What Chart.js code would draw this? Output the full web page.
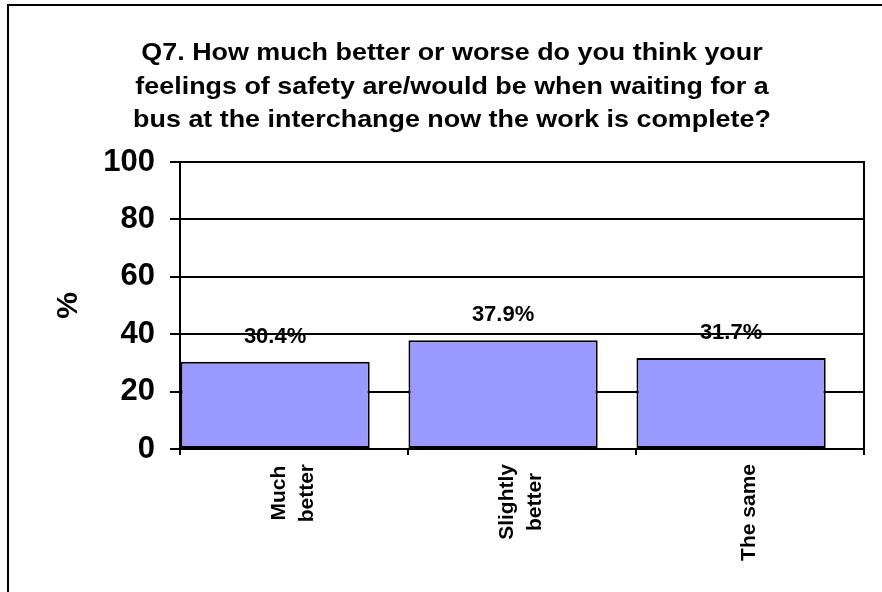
<!DOCTYPE html>
<html>
<head>
<meta charset="utf-8">
<title>Q7 safety at the interchange</title>
<script src="https://cdn.jsdelivr.net/npm/chart.js@4.4.1/dist/chart.umd.min.js"></script>
<style>
  html, body { margin: 0; padding: 0; background: #fff; overflow: hidden; }
  #frame {
    position: absolute;
    left: 7px;
    top: 4px;
    width: 886px;
    height: 600px;
    border: 2px solid #000;
  }
  canvas { display: block; }
</style>
</head>
<body>
<div id="frame">
  <canvas id="chart" width="886" height="600"></canvas>
</div>
<script>
// Ответы на вопрос Q7
const categories = [["Much", "better"], ["Slightly", "better"], "The same"];
const percents = [30.4, 37.9, 31.7];
const yTicks = [0, 20, 40, 60, 80, 100];

const titleLines = [
  "Q7. How much better or worse do you think your",
  "feelings of safety are/would be when waiting for a",
  "bus at the interchange now the work is complete?",
];

// Столбики сдвинуты влево внутри своей категории
const barShift = 0.083;

const FONT = '"Liberation Sans", Arial, Helvetica, sans-serif';
Chart.defaults.font.family = FONT;
Chart.defaults.color = "#000";

// Заголовок: широкий жирный шрифт, три строки по центру
const wideTitle = {
  id: "wideTitle",
  afterDraw(chart) {
    const ctx = chart.ctx;
    const stretch = 1.12;
    ctx.save();
    ctx.font = "bold 24px " + FONT;
    ctx.fillStyle = "#000";
    ctx.textAlign = "center";
    ctx.textBaseline = "alphabetic";
    titleLines.forEach((line, i) => {
      ctx.save();
      ctx.translate(chart.width / 2, 54 + i * 33.5);
      ctx.scale(stretch, 1);
      ctx.fillText(line, 0, 0);
      ctx.restore();
    });
    ctx.restore();
  },
};

// Подписи значений над столбиками
const valueLabels = {
  id: "valueLabels",
  afterDatasetsDraw(chart) {
    const ctx = chart.ctx;
    const meta = chart.getDatasetMeta(0);
    ctx.save();
    ctx.font = "bold 22px " + FONT;
    ctx.fillStyle = "#000";
    ctx.textAlign = "center";
    ctx.textBaseline = "alphabetic";
    meta.data.forEach((bar, i) => {
      ctx.fillText(percents[i].toFixed(1) + "%", bar.x, bar.y - 19);
    });
    ctx.restore();
  },
};

// Повернутые подписи категорий, строки выровнены по центру блока
const categoryLabels = {
  id: "categoryLabels",
  afterDraw(chart) {
    const ctx = chart.ctx;
    const scale = chart.scales.x;
    const lineH = 28;
    ctx.save();
    ctx.font = "bold 21px " + FONT;
    ctx.fillStyle = "#000";
    ctx.textAlign = "center";
    ctx.textBaseline = "middle";
    categories.forEach((cat, i) => {
      const lines = [].concat(cat);
      const px = scale.getPixelForTick(i);
      const maxW = Math.max(...lines.map((l) => ctx.measureText(l).width));
      const top = scale.top + 15;
      lines.forEach((line, j) => {
        const cx = px + (j - (lines.length - 1) / 2) * lineH - 1;
        ctx.save();
        ctx.translate(cx, top + maxW / 2);
        ctx.rotate(-Math.PI / 2);
        ctx.fillText(line, 0, 0);
        ctx.restore();
      });
    });
    ctx.restore();
  },
};

new Chart(document.getElementById("chart"), {
  type: "bar",
  data: {
    labels: categories,
    datasets: [
      {
        data: percents.map((v, i) => ({ x: i, y: v })),
        xAxisID: "xb",
        backgroundColor: "#9999FF",
        borderColor: "#000",
        borderWidth: 2,
        borderSkipped: false,
        categoryPercentage: 1,
        barPercentage: 0.83,
      },
    ],
  },
  options: {
    responsive: false,
    animation: false,
    layout: {
      padding: { left: 0, right: 31, top: 156, bottom: 0 },
    },
    plugins: {
      legend: { display: false },
      tooltip: { enabled: false },
      title: { display: false },
    },
    scales: {
      x: {
        type: "category",
        offset: true,
        grid: {
          display: true,
          offset: true,
          drawOnChartArea: false,
          color: "#000",
          lineWidth: 2,
          tickLength: 6,
        },
        border: { display: true, color: "#000", width: 2 },
        ticks: { display: false },
        afterFit(scale) {
          scale.height = 157;
        },
      },
      xb: {
        type: "linear",
        display: false,
        offset: false,
        grid: { offset: false },
        min: -0.5 + barShift,
        max: 2.5 + barShift,
        ticks: { stepSize: 1, includeBounds: false },
      },
      y: {
        min: 0,
        max: 100,
        afterBuildTicks(scale) {
          scale.ticks = yTicks.map((v) => ({ value: v }));
        },
        grid: {
          color: "#000",
          lineWidth: 2,
          tickLength: 10,
          tickColor: "#000",
          tickWidth: 2,
        },
        border: { display: true, color: "#000", width: 2 },
        ticks: {
          padding: 15,
          font: { size: 31, weight: "bold" },
          color: "#000",
        },
        title: {
          display: true,
          text: "%",
          font: { size: 30, weight: "bold" },
          color: "#000",
          padding: { top: 42 },
        },
        afterFit(scale) {
          scale.width = 171;
        },
      },
      y2: {
        position: "right",
        min: 0,
        max: 100,
        grid: { display: false, drawTicks: false },
        ticks: { display: false },
        border: { display: true, color: "#000", width: 2 },
        afterFit(scale) {
          scale.width = 0;
        },
      },
    },
  },
  plugins: [wideTitle, valueLabels, categoryLabels],
});
</script>
</body>
</html>
